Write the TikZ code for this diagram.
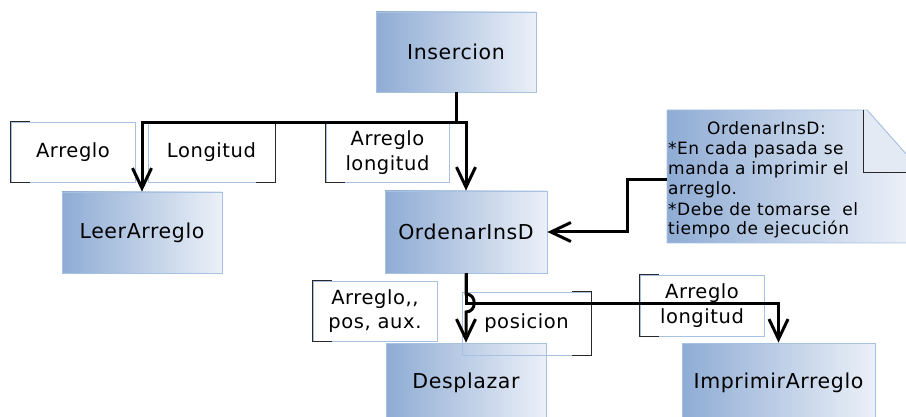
\documentclass[tikz,border=0pt]{standalone}
\usepackage{fontspec}
\setmainfont{DejaVu Sans}[LetterSpace=3]
\usetikzlibrary{arrows.meta}
\definecolor{gradL}{RGB}{143,172,212}
\definecolor{gradR}{RGB}{235,240,248}
\definecolor{bord}{RGB}{167,193,226}
\definecolor{foldc}{RGB}{228,234,244}
\definecolor{brk}{RGB}{40,40,40}
\begin{document}
\begin{tikzpicture}[x=1pt,y=-1pt,
  mainbox/.style={draw=bord, line width=0.8pt, left color=gradL, right color=gradR, inner sep=0pt, font=\fontsize{20.5}{24}\selectfont},
  labelbox/.style={draw=bord, line width=0.8pt, inner sep=0pt, align=center, font=\fontsize{19.5}{24.5}\selectfont},
  bracket/.style={draw=brk, line width=0.9pt},
  conn/.style={line width=3pt, -{Straight Barb[length=20pt,width=19pt]}},
  plainline/.style={line width=3pt},
  ntext/.style={inner sep=0pt, font=\fontsize{17}{20}\selectfont},
  ]
\useasboundingbox (0,0) rectangle (906,417);
\clip (0,0) rectangle (906,417);

% main boxes
\node[mainbox, minimum width=160pt, minimum height=80pt] (ins) at (456,52) {Insercion};
\node[mainbox, minimum width=160pt, minimum height=81pt] (leer) at (142,232.5) {LeerArreglo};
\node[mainbox, minimum width=162pt, minimum height=82pt] (ord) at (466,232) {OrdenarInsD};
\node[mainbox, minimum width=160pt, minimum height=80pt] (desp) at (466,383) {Desplazar};
\node[mainbox, minimum width=193pt, minimum height=80pt] (imp) at (778.5,383) {ImprimirArreglo};

% note
\path[draw=bord, line width=0.8pt, left color=gradL, right color=gradR]
  (667,110) -- (867,110) -- (907,155) -- (907,243) -- (667,243) -- cycle;
\fill[foldc] (863,110) -- (867,110) -- (907,155) -- (907,172) -- (863,172) -- cycle;
\draw[bord, line width=0.8pt] (867,110) -- (907,155);
\draw[brk, line width=0.9pt] (863,110) -- (863,172) -- (907,172);
\coordinate (noteL) at (667,180);
\begin{scope}
\clip (660,100) rectangle (858,250);
\node[ntext, anchor=base] (nt1) at (766.5,135) {OrdenarInsD:};
\node[ntext, anchor=base west] (nt2) at (668,155) {*En cada pasada se};
\node[ntext, anchor=base west] (nt3) at (668,175) {manda a imprimir el};
\node[ntext, anchor=base west] (nt4) at (668,195) {arreglo.};
\node[ntext, anchor=base west] (nt5) at (668,215) {*Debe de tomarse\ \ el};
\node[ntext, anchor=base west] (nt6) at (668,235) {tiempo de ejecución};
\end{scope}

% label boxes
\node[labelbox, minimum width=124pt, minimum height=60pt] (l1) at (73,152) {Arreglo};
\node[labelbox, minimum width=127pt, minimum height=60pt] (l2) at (211.5,152) {Longitud};
\node[labelbox, minimum width=123pt, minimum height=59pt] (l3) at (387.5,152.5) {Arreglo\\longitud};
\node[labelbox, minimum width=124pt, minimum height=60pt] (l4) at (375,311) {Arreglo,{},\\pos, aux.};
\node[labelbox, minimum width=129pt, minimum height=63pt] (l5) at (526.5,323.5) {posicion};
\node[labelbox, minimum width=124pt, minimum height=61pt] (l6) at (702,305.5) {Arreglo\\longitud};

\draw[bracket] ([xshift=19pt]l1.north west) -| (l1.south west) -- ++(19,0);
\draw[bracket] ([xshift=-19pt]l2.north east) -| (l2.south east) -- ++(-19,0);
\draw[bracket] ([xshift=19pt]l3.north west) -| (l3.south west) -- ++(19,0);
\draw[bracket] ([xshift=19pt]l4.north west) -| (l4.south west) -- ++(19,0);
\draw[bracket] ([xshift=-19pt]l5.north east) -| (l5.south east) -- ++(-19,0);
\draw[bracket] ([xshift=19pt]l6.north west) -| (l6.south west) -- ++(19,0);

% connectors
\coordinate (j1) at (456,123);
\draw[plainline] (ins.south) -- (j1);
\draw[conn] (j1) -| (leer.north);
\draw[conn] ([xshift=-1.5pt]j1) -| (ord.north);
\draw[conn] (noteL) -- (627,180) |- (ord.east);
\coordinate (hopA) at (466,294);
\coordinate (hopB) at (466,312);
\draw[conn] (ord.south) -- (hopA) .. controls (477,294) and (477,312) .. (hopB) -- (desp.north);
\draw[conn] (ord.south) -- (466,303) -| (imp.north);
\end{tikzpicture}
\end{document}
